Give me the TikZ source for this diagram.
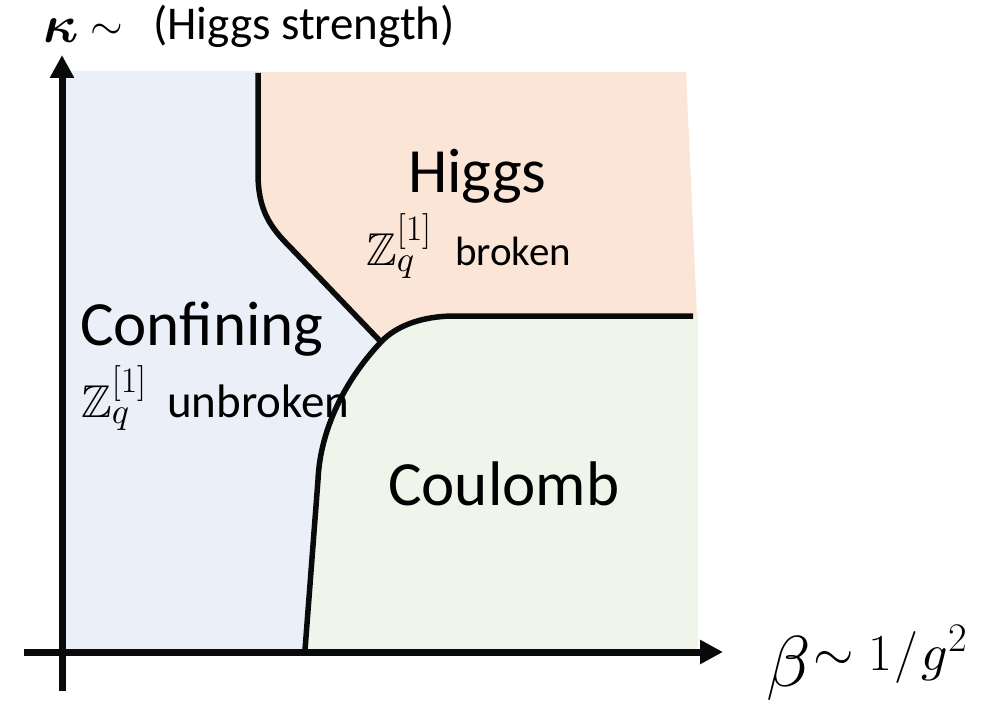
\RequirePackage{fix-cm}
\documentclass[tikz,border=0pt]{standalone}
\usepackage{amsmath,amssymb}
\DeclareFontFamily{U}{msb}{}
\DeclareFontShape{U}{msb}{m}{n}{<-> msbm10}{}
\DeclareFontFamily{OML}{cmm}{\skewchar\font127 }
\DeclareFontShape{OML}{cmm}{m}{it}{<-> cmmi10}{}
\DeclareFontShape{OML}{cmm}{b}{it}{<-> cmmib10}{}
\DeclareFontFamily{OMS}{cmsy}{\skewchar\font48 }
\DeclareFontShape{OMS}{cmsy}{m}{n}{<-> cmsy10}{}
\renewcommand\defaultscriptratio{.78}
\usepackage{fontspec}
\setmainfont{Carlito}
\usetikzlibrary{arrows.meta}
\definecolor{bluefill}{HTML}{EBEFF8}
\definecolor{orangefill}{HTML}{FBE5D6}
\definecolor{greenfill}{HTML}{F0F5EB}
\definecolor{ink}{HTML}{0A0A0A}
\begin{document}
\begin{tikzpicture}[x=1pt,y=-1pt,
  axis/.style={line width=7pt, draw=ink, -{Triangle[width=23pt,length=23pt]}},
  border/.style={line width=5.5pt, draw=ink, line join=round},
  lbl/.style={anchor=base west, inner sep=0pt, text=black},
  big/.style={font=\fontsize{63}{70}\selectfont}]
\useasboundingbox (0,0) rectangle (997,701);
% key points
\coordinate (TP) at (381,342);
\coordinate (HTop) at (258,73);
\coordinate (HKnee) at (258,173);
\coordinate (HBend) at (290,247);
\coordinate (CKnee) at (318,480);
\coordinate (CBot) at (305,650);
\coordinate (GArc) at (455,316);
\coordinate (GEnd) at (693,316);
% regions
\fill[bluefill] (62,71) -- (258,71) -- (HKnee) .. controls (258,210) and (270,227) .. (HBend) -- (TP)
  .. controls (345,380) and (320,430) .. (CKnee) -- (CBot) -- (62,650) -- cycle;
\fill[orangefill] (258,72) -- (686,72) -- (697,316) -- (GArc) .. controls (420,316) and (395,327) .. (TP)
  -- (HBend) .. controls (270,227) and (258,210) .. (HKnee) -- cycle;
\fill[greenfill] (TP) .. controls (395,327) and (420,316) .. (GArc) -- (698,316) -- (698,650) -- (CBot)
  -- (CKnee) .. controls (320,430) and (345,380) .. (TP) -- cycle;
% axes
\coordinate (YS) at (62,691);
\coordinate (YE) at (62,55);
\coordinate (XS) at (24,652);
\coordinate (XE) at (723,652);
\draw[axis] (YS) -- (YE);
\draw[axis] (XS) -- (XE);
% phase boundaries
\draw[border] (HTop) -- (HKnee) .. controls (258,210) and (270,227) .. (HBend) -- (TP);
\draw[border] (GEnd) -- (GArc) .. controls (420,316) and (395,327) .. (TP)
  .. controls (345,380) and (320,430) .. (CKnee) -- (CBot);
% axis labels
\node[lbl, font=\fontsize{53}{60}\selectfont] (kappa) at (43,43) {$\boldsymbol{\kappa}$};
\node[lbl, font=\fontsize{42}{48}\selectfont] (ysim) at (90,40) {$\sim$};
\node[lbl, font=\fontsize{47}{54}\selectfont] (ylab) at (153,40) {(Higgs strength)};
\node[lbl, font=\fontsize{72}{80}\selectfont] (beta) at (766,686) {$\beta$};
\node[lbl, font=\fontsize{52}{60}\selectfont] (xlab) at (813,670) {$\sim 1\mkern1mu/\mkern1mu g^2$};
% region labels
\node[lbl, big] (higgs) at (408,192) {Higgs};
\node[lbl] (higgsz) at (366,265) {\makebox[89pt][l]{\fontsize{46}{52}\selectfont$\mathbb{Z}_q^{[1]}$}\fontsize{41}{50}\selectfont broken};
\node[lbl, big] (conf) at (80,345) {Confining};
\node[lbl] (confz) at (81,417) {\makebox[86pt][l]{\fontsize{46}{52}\selectfont$\mathbb{Z}_q^{[1]}$}\fontsize{47}{54}\selectfont unbroken};
\node[lbl, big] (coul) at (388,505) {Coulomb};
\end{tikzpicture}
\end{document}
